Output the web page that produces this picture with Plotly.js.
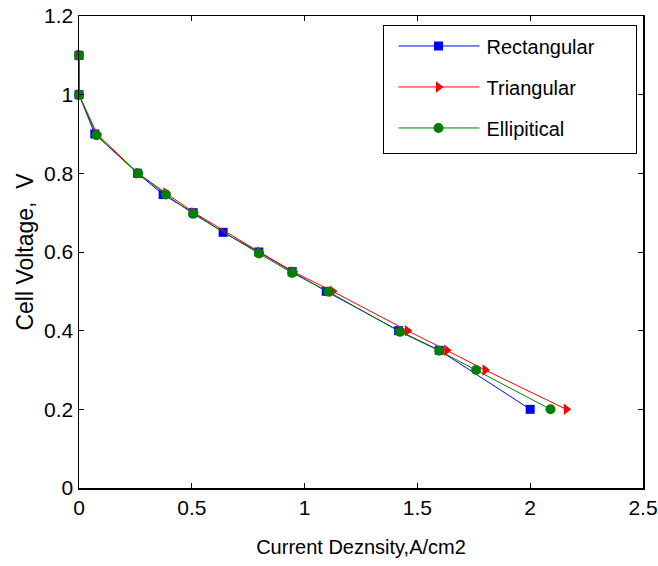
<!DOCTYPE html>
<html>
<head>
<meta charset="utf-8">
<script src="https://cdn.plot.ly/plotly-3.0.1.min.js"></script>
<style>html,body{margin:0;padding:0;background:#fff;}#chart{width:658px;height:566px;}</style>
</head>
<body>
<div id="chart"></div>
<script>
const seriesNames = ["Rectangular", "Triangular", "Ellipitical"];
const rectX = [0, 0, 0.07, 0.26, 0.373, 0.506, 0.639, 0.797, 0.945, 1.096, 1.417, 1.597, 2.0];
const rectY = [1.1, 1.0, 0.9, 0.8, 0.746, 0.7, 0.65, 0.6, 0.55, 0.5, 0.4, 0.35, 0.2];
const triX = [0, 0, 0.08, 0.262, 0.385, 0.51, 0.8, 0.95, 1.124, 1.456, 1.63, 1.80, 2.16];
const triY = [1.1, 1.0, 0.9, 0.8, 0.75, 0.7, 0.6, 0.55, 0.5, 0.4, 0.35, 0.3, 0.2];
const ellX = [0, 0, 0.078, 0.262, 0.385, 0.506, 0.798, 0.945, 1.106, 1.423, 1.597, 1.76, 2.09];
const ellY = [1.1, 1.0, 0.897, 0.8, 0.746, 0.697, 0.596, 0.547, 0.499, 0.397, 0.349, 0.3, 0.2];
const xTicks = [0, 0.5, 1, 1.5, 2, 2.5];
const yTicks = [0, 0.2, 0.4, 0.6, 0.8, 1, 1.2];

const sans = "'Liberation Sans', Arial, sans-serif";

const traces = [
  {x: rectX, y: rectY, name: seriesNames[0], legendgroup: 'a', mode: 'lines+markers', cliponaxis: false,
   line: {color: '#0000ff', width: 1}, marker: {symbol: 'square', size: 9, color: '#0000ff'}},
  {x: triX, y: triY, name: seriesNames[1], legendgroup: 'b', mode: 'lines+markers', cliponaxis: false,
   line: {color: '#ff0000', width: 1}, marker: {symbol: 'triangle-right', size: 10, color: '#ff0000'}},
  {x: ellX, y: ellY, name: seriesNames[2], legendgroup: 'c', mode: 'lines+markers', cliponaxis: false,
   line: {color: '#008000', width: 1}, marker: {symbol: 'circle', size: 10, color: '#008000'}}
];

const axisCommon = {
  showline: true, linecolor: '#000', linewidth: 1.5, mirror: 'ticks',
  ticks: 'inside', ticklen: 5, tickcolor: '#000', tickwidth: 1,
  showgrid: false, zeroline: false, ticklabeloverflow: 'allow',
  tickfont: {family: sans, size: 21, color: '#000'}
};

const layout = {
  width: 658, height: 566,
  margin: {l: 79, r: 15, t: 16, b: 78},
  paper_bgcolor: '#fff', plot_bgcolor: '#fff',
  showlegend: true,
  xaxis: Object.assign({}, axisCommon, {
    range: [0, 2.5], tickvals: xTicks, ticktext: xTicks.map(String),
    title: {text: 'Current Deznsity,A/cm2', font: {family: sans, size: 20, color: '#000'}, standoff: 22}
  }),
  yaxis: Object.assign({}, axisCommon, {
    range: [0, 1.2], tickvals: yTicks, ticktext: yTicks.map(String),
    title: {text: 'Cell Voltage,  V', font: {family: sans, size: 23, color: '#000'}, standoff: 4}
  }),
  legend: {
    x: 0.539, y: 0.981, xanchor: 'left', yanchor: 'top',
    bgcolor: '#fff', bordercolor: '#000', borderwidth: 1.5,
    font: {family: sans, size: 20, color: '#000'},
    itemwidth: 92, tracegroupgap: 12
  }
};

const gd = document.getElementById('chart');
Plotly.newPlot(gd, traces, layout, {displayModeBar: false, staticPlot: true}).then(function () {
  // stretch legend sample lines to match the reference's long legend keys
  gd.querySelectorAll('.legend .traces').forEach(function (tr) {
    tr.querySelectorAll('.legendlines path').forEach(function (p) { p.setAttribute('d', 'M14,0h81'); });
    tr.querySelectorAll('.legendpoints path.scatterpts').forEach(function (p) { p.setAttribute('transform', 'translate(54,0)'); });
  });
  const bg = gd.querySelector('.legend rect.bg');
  if (bg) { bg.setAttribute('width', 253); bg.setAttribute('height', 128); }
});
</script>
</body>
</html>
